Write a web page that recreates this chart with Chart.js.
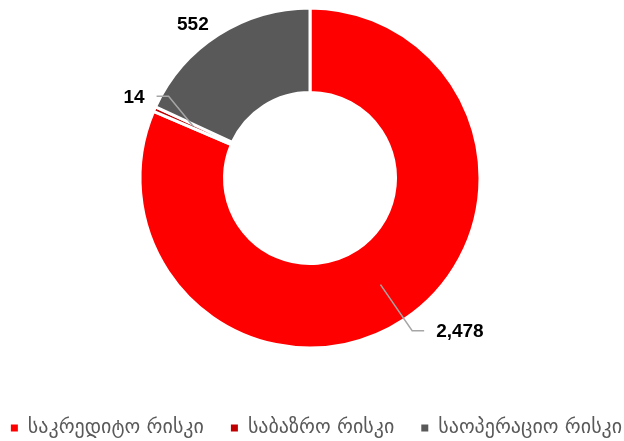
<!DOCTYPE html>
<html>
<head>
<meta charset="utf-8">
<script src="https://cdn.jsdelivr.net/npm/chart.js@4.4.1/dist/chart.umd.min.js"></script>
<style>
    html, body { margin: 0; padding: 0; background: #fff; }
    #wrap { width: 624px; height: 441px; position: relative; }
</style>
</head>
<body>
<div id="wrap"><canvas id="riskChart"></canvas></div>
<script>
const categories = ['საკრედიტო რისკი', 'საბაზრო რისკი', 'საოპერაციო რისკი']
const riskValues = [2478, 14, 552]
const sliceColors = ['#ff0000', '#c00000', '#595959']

// label placement relative to each slice: extra radius past the ring, angle nudge (deg), leader line or not
const labelPlacement = [
    { extra: 44, nudge: -11, leader: true },
    { extra: 24, nudge: 1, leader: true },
    { extra: 24, nudge: -4.5, leader: false }
]

const outsideLabels = {
    id: 'outsideLabels',
    afterDatasetsDraw(chart) {
        const ctx = chart.ctx
        const meta = chart.getDatasetMeta(0)
        ctx.save()
        ctx.font = 'bold 19px "Liberation Sans", Arial, sans-serif'
        ctx.textBaseline = 'middle'
        meta.data.forEach((arc, i) => {
            const { x, y, startAngle, endAngle, outerRadius, innerRadius } = arc.getProps(['x', 'y', 'startAngle', 'endAngle', 'outerRadius', 'innerRadius'], true)
            const mid = (startAngle + endAngle) / 2
            const place = labelPlacement[i]
            const a = mid + place.nudge * Math.PI / 180
            const r = outerRadius + place.extra
            const lx = x + Math.cos(a) * r
            const ly = y + Math.sin(a) * r
            const text = riskValues[i].toLocaleString('en-US')
            const w = ctx.measureText(text).width
            ctx.fillStyle = '#000'
            ctx.textAlign = 'center'
            ctx.fillText(text, lx, ly + 1)
            if (place.leader) {
                const rm = (outerRadius + innerRadius) / 2
                const sx = x + Math.cos(mid) * rm
                const sy = y + Math.sin(mid) * rm
                const dir = lx > x ? -1 : 1
                const ex = lx + dir * (w / 2 + 12)
                const kx = ex + dir * 12
                ctx.strokeStyle = '#a6a6a6'
                ctx.lineWidth = 1.5
                ctx.beginPath()
                ctx.moveTo(sx, sy)
                ctx.lineTo(kx, ly)
                ctx.lineTo(ex, ly)
                ctx.stroke()
            }
        })
        ctx.restore()
    }
}

new Chart(document.getElementById('riskChart'), {
    type: 'doughnut',
    data: {
        labels: categories,
        datasets: [{
            data: riskValues,
            backgroundColor: sliceColors,
            borderColor: '#ffffff',
            borderWidth: 3,
            hoverOffset: 0
        }]
    },
    options: {
        responsive: true,
        maintainAspectRatio: false,
        animation: false,
        radius: 170,
        cutout: '50.3%',
        // negative side padding widens the legend box so it stays on one row
        layout: {
            padding: { top: 0, bottom: 0, left: -20, right: -29 }
        },
        plugins: {
            // empty box on the right pulls the ring centre back to x=310
            title: {
                display: true,
                text: '',
                position: 'right',
                fullSize: false,
                font: { size: 10, lineHeight: 3.3 },
                padding: 0
            },
            legend: {
                position: 'bottom',
                maxHeight: 85,
                title: {
                    display: true,
                    text: '',
                    font: { size: 10 },
                    padding: { top: 23, bottom: 0 }
                },
                labels: {
                    boxWidth: 7,
                    boxHeight: 7,
                    padding: 27,
                    color: '#595959',
                    font: { family: '"DejaVu Sans", sans-serif', size: 20 },
                    generateLabels: (chart) => Chart.overrides.doughnut.plugins.legend.labels
                        .generateLabels(chart).map(item => ({ ...item, lineWidth: 0 }))
                }
            },
            tooltip: { enabled: false }
        }
    },
    plugins: [outsideLabels]
})
</script>
</body>
</html>
